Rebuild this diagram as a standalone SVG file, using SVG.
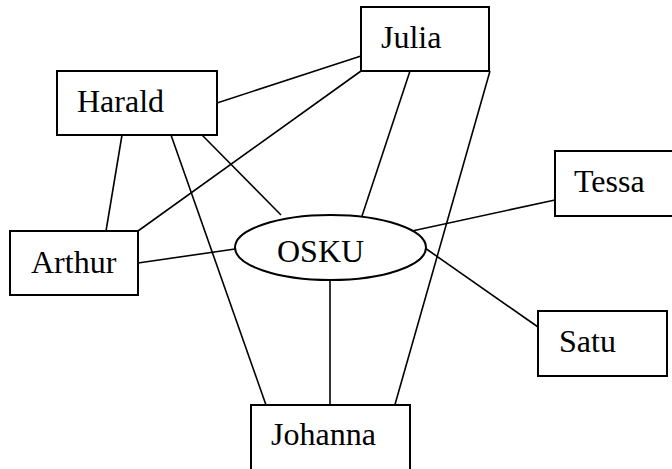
<svg xmlns="http://www.w3.org/2000/svg" width="672" height="469" viewBox="0 0 672 469">
<style>
.box{fill:#fff;stroke:#000;stroke-width:2}
.lbl{font-family:'Liberation Serif','DejaVu Serif',serif;font-size:32px;fill:#000}
.edge{stroke:#000;stroke-width:1.6;fill:none}
</style>
<rect width="672" height="469" fill="#fff"/>
<g id="connectors" class="edge">
<line x1="217" y1="103" x2="361" y2="56"/>
<line x1="138" y1="231" x2="361" y2="71"/>
<line x1="122" y1="135" x2="106" y2="231"/>
<line x1="171" y1="135" x2="266" y2="405"/>
<line x1="202" y1="135" x2="281" y2="215"/>
<line x1="410" y1="71" x2="362" y2="216"/>
<line x1="490" y1="71" x2="394" y2="408"/>
<line x1="412" y1="231" x2="555" y2="200"/>
<line x1="138" y1="263" x2="235" y2="249"/>
<line x1="330" y1="280" x2="330" y2="405"/>
<line x1="425" y1="248" x2="538" y2="327"/>
</g>
<g id="harald"><rect class="box" x="57" y="71" width="160" height="64"/><text class="lbl" font-family="Liberation Serif, serif" x="77" y="112">Harald</text></g>
<g id="julia"><rect class="box" x="361" y="7" width="128" height="64"/><text class="lbl" font-family="Liberation Serif, serif" x="381" y="48">Julia</text></g>
<g id="tessa"><rect class="box" x="555" y="151" width="130" height="65"/><text class="lbl" font-family="Liberation Serif, serif" x="574" y="192">Tessa</text></g>
<g id="arthur"><rect class="box" x="10" y="231" width="128" height="64"/><text class="lbl" font-family="Liberation Serif, serif" x="31" y="273">Arthur</text></g>
<g id="osku"><ellipse class="box" cx="330.5" cy="247.5" rx="95.5" ry="32.5"/><text class="lbl" font-family="Liberation Serif, serif" x="277" y="262">OSKU</text></g>
<g id="satu"><rect class="box" x="538" y="311" width="129" height="65"/><text class="lbl" font-family="Liberation Serif, serif" x="559" y="352">Satu</text></g>
<g id="johanna"><rect class="box" x="251" y="405" width="159" height="75"/><text class="lbl" font-family="Liberation Serif, serif" x="271" y="445">Johanna</text></g>
</svg>
